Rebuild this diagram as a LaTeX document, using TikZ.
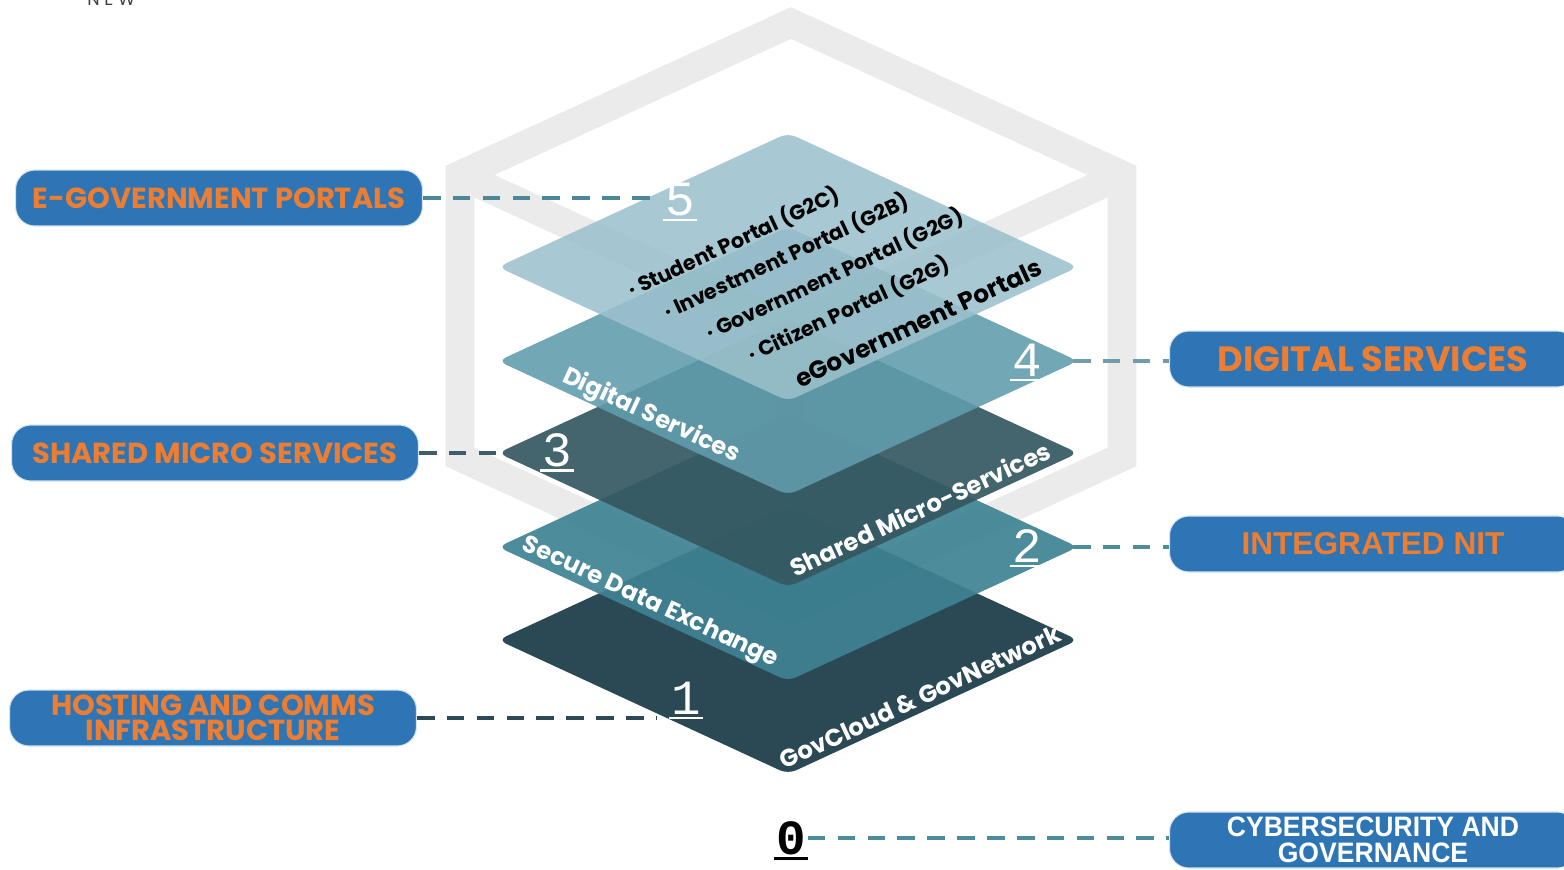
\documentclass[tikz,border=0pt]{standalone}
\usepackage{fontspec}
\setmainfont{Poppins}
\newfontfamily\arialfont{Liberation Sans}
\newfontfamily\narrowfont{Liberation Sans}[FakeStretch=0.945]
\newfontfamily\numfont{Liberation Mono}

\definecolor{boxblue}{HTML}{2E75B6}
\definecolor{lblorange}{HTML}{ED7D31}
\definecolor{cubegray}{HTML}{EBEBEB}
\definecolor{layA}{HTML}{193A46}
\definecolor{layB}{HTML}{3E8293}
\definecolor{layC}{HTML}{345861}
\definecolor{layD}{HTML}{619CAC}
\definecolor{layE}{HTML}{9BC1CC}
\definecolor{lineA}{HTML}{2B4A55}
\definecolor{lineB}{HTML}{4D8C9C}
\definecolor{lineC}{HTML}{3F5F68}
\definecolor{lineD}{HTML}{6F9EAB}
\definecolor{lineE}{HTML}{4A8798}

\begin{document}
\begin{tikzpicture}[x=0.02cm,y=-0.02cm]
      \tikzstyle{tag}=[rectangle,rounded corners=11pt,fill=boxblue,
        draw=white!80!boxblue,line width=0.6pt,
        minimum width=8.14cm,minimum height=1.12cm,inner sep=0pt,
        text=lblorange,font=\bfseries\fontsize{16.5}{14.5}\selectfont,align=center]
      \tikzstyle{layer}=[rounded corners=5pt]
      \tikzstyle{cube}=[draw=cubegray,line width=16.4pt,line join=miter]
      \tikzstyle{num}=[font=\numfont\fontsize{28}{28}\selectfont,text=white,
        inner xsep=1pt,inner ysep=2pt]
      \tikzstyle{iso}=[font=\bfseries\fontsize{13.8}{13.8}\selectfont,text=white,inner sep=0pt]
      \tikzstyle{portal}=[font=\bfseries\fontsize{11.8}{11.8}\selectfont,text=black,
        inner sep=0pt,anchor=west,rotate=25]
      \tikzstyle{link}=[dash pattern=on 10pt off 7pt,line width=2.2pt]

      \useasboundingbox (0,0) rectangle (1564,869);

      \node[font=\fontsize{10}{10}\selectfont,text=black!75,anchor=base] (newtag) at (122,5) {N E W \ –};

      % cube outline behind the stack
      \draw[cube] (791,23) -- (1122,175) -- (1122,457) -- (791,609)
                  -- (460,457) -- (460,175) -- cycle;
      \draw[cube] (460,175) -- (791,327) -- (1122,175);
      \draw[cube] (791,327) -- (791,609);

      % the five layers, bottom first
      \foreach \yc/\col/\op in {640/layA/0.92,547/layB/0.92,453/layC/0.92,361/layD/0.89,267/layE/0.87}
        \fill[layer,fill=\col,fill opacity=\op] (498,\yc) -- (788,{\yc-134}) -- (1078,\yc)
             -- (788,{\yc+134}) -- cycle;

      \coordinate (tip3w) at (505,453);
      \coordinate (tip4e) at (1073,361);
      \coordinate (tip2e) at (1073,547);

      % texts on the layers
      \node[portal] (stud) at (629,291) {· Student Portal (G2C)};
      \node[portal] (inv)  at (665,313) {· Investment Portal (G2B)};
      \node[portal] (gov)  at (707,334) {· Government Portal (G2G)};
      \node[portal] (cit)  at (749,356) {· Citizen Portal (G2G)};
      \node[portal,font=\bfseries\fontsize{14}{14}\selectfont] (egp) at (796,380) {eGovernment Portals};

      \node[iso,rotate=-25] (digi)  at (651,416) {Digital Services};
      \node[iso,rotate=25]  (micro) at (920,509) {Shared Micro-Services};
      \node[iso,rotate=-25] (sde)   at (650,603) {Secure Data Exchange};
      \node[iso,rotate=25]  (cloud) at (920,697) {GovCloud \& GovNetwork};

      % layer numbers
      \node[num] (n5) at (680,200) {5};
      \node[num] (n4) at (1027,360) {4};
      \node[num] (n3) at (557,450) {3};
      \node[num] (n2) at (1027,546) {2};
      \node[num] (n1) at (686,698) {1};
      \node[num,text=black,font=\numfont\bfseries\fontsize{28}{28}\selectfont] (n0) at (791,838) {0};
      \foreach \n in {n1,n2,n3,n4,n5}
        \draw[white,line width=1.3pt] (\n.south west) -- (\n.south east);
      \draw[black,line width=1.5pt] (n0.south west) -- (n0.south east);

      % labels
      \node[tag] (egov)   at (219,198) {E-GOVERNMENT PORTALS};
      \node[tag] (shared) at (215,453) {SHARED MICRO SERVICES};
      \node[tag] (host)   at (213,718) {HOSTING AND COMMS\\INFRASTRUCTURE};
      \node[tag,font=\bfseries\fontsize{20}{20}\selectfont] (digital) at (1373,359) {DIGITAL SERVICES};
      \node[tag,font=\arialfont\bfseries\fontsize{18}{18}\selectfont] (nit) at (1373,544) {INTEGRATED NIT};
      \node[tag,text=white,font=\narrowfont\bfseries\fontsize{16}{14.5}\selectfont] (cyber) at (1373,840)
           {CYBERSECURITY AND\\GOVERNANCE};

      % dashed links
      \draw[link,draw=lineE] (egov) -- ([xshift=-3pt]egov -| n5.west);
      \draw[link,draw=lineC] (shared) -- (shared -| tip3w);
      \draw[link,draw=lineA] (host) -- ([xshift=-7pt]host -| n1.west);
      \draw[link,draw=lineD] (tip4e) -- (tip4e -| digital.west);
      \draw[link,draw=lineB] (tip2e) -- (tip2e -| nit.west);
      \draw[link,draw=lineB] (n0) -- (n0 -| cyber.west);

\end{tikzpicture}
\end{document}
